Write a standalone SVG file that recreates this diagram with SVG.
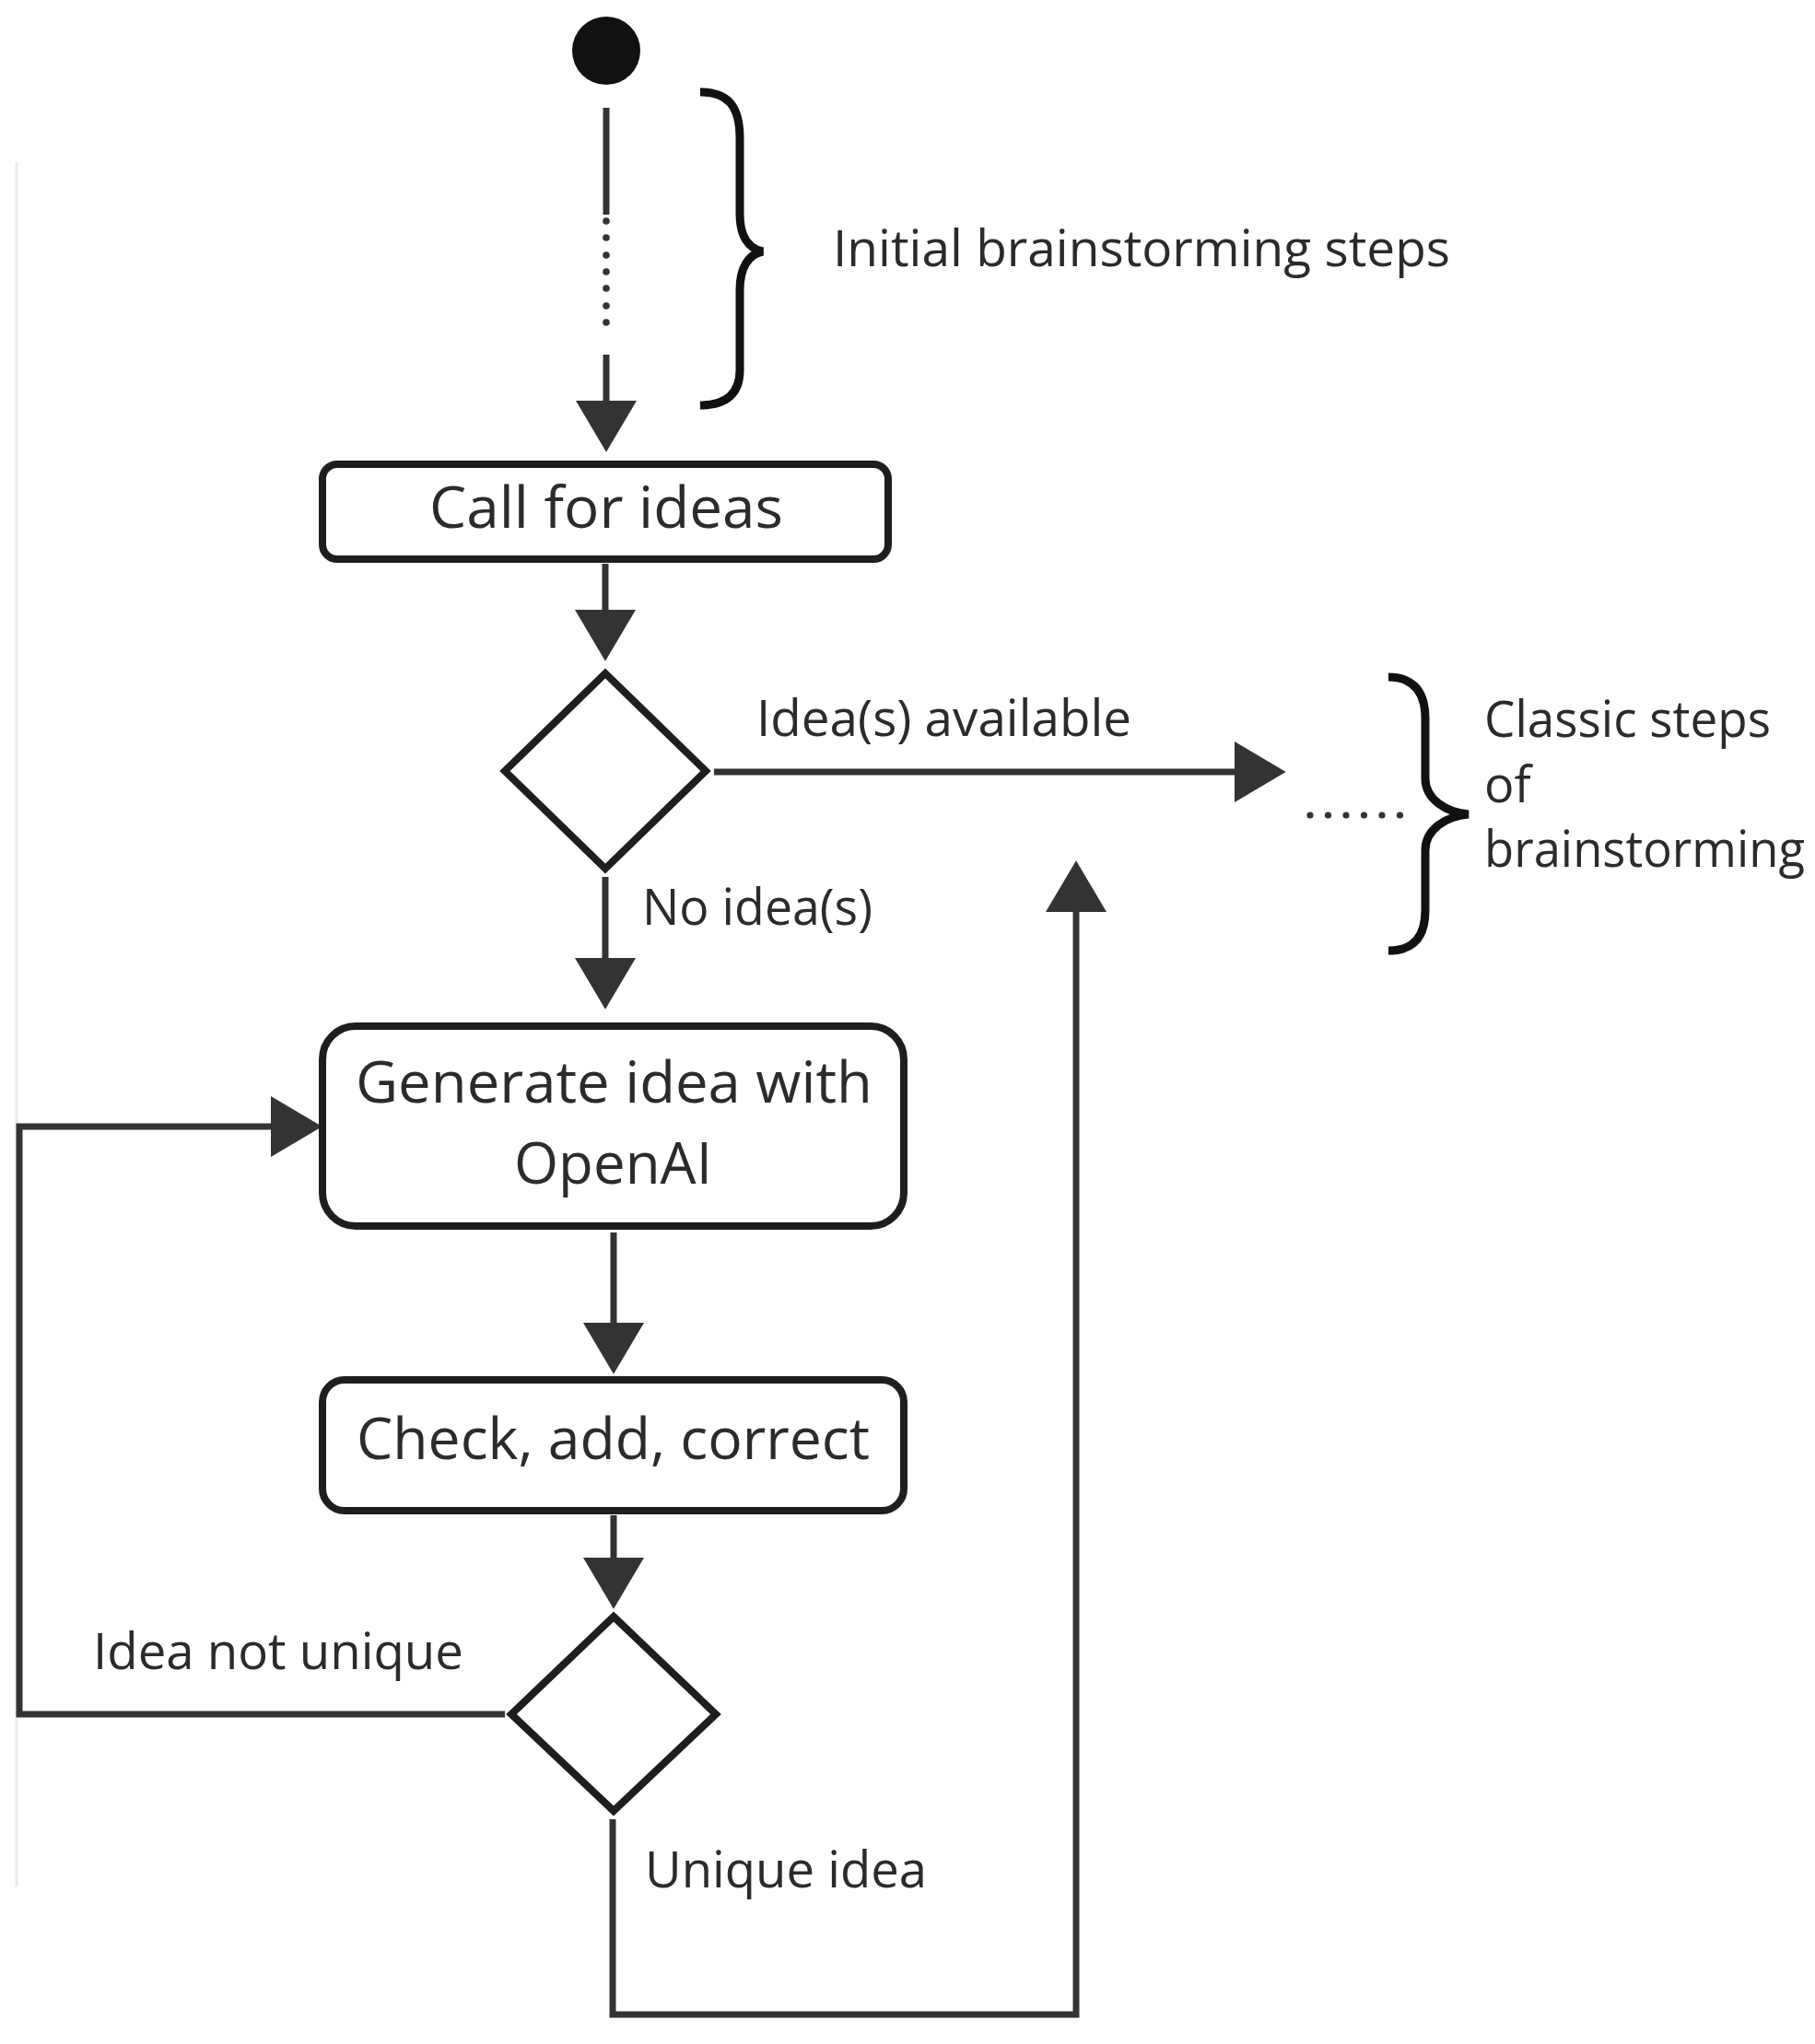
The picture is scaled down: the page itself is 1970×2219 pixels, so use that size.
<svg xmlns="http://www.w3.org/2000/svg" width="1970" height="2219" viewBox="0 0 1970 2219">
  <style>
    .node { fill: #ffffff; stroke: #1e1e1e; stroke-width: 8; }
    .conn { fill: none; stroke: #333333; stroke-width: 7; }
    .brace { fill: none; stroke: #111111; stroke-width: 9; stroke-linecap: butt; }
    .t { font-family: "Open Sans", "Noto Sans", "Liberation Sans", sans-serif; fill: #2b2b2b; }
    .big { font-size: 62px; }
    .lbl { font-size: 54px; }
    .dot { fill: #333333; }
  </style>
  <defs>
    <marker id="arr" markerUnits="userSpaceOnUse" markerWidth="56" markerHeight="66" viewBox="0 0 54 64" refX="0" refY="32" orient="auto">
      <path d="M0,0 L54,32 L0,64 Z" fill="#333333"/>
    </marker>
  </defs>
  <rect x="0" y="0" width="1970" height="2219" fill="#ffffff"/>
  <line x1="18" y1="176" x2="18" y2="2048" stroke="#ececec" stroke-width="3"/>

  <g id="connectors">
    <path class="conn" d="M658,117 V233"/>
    <g id="start-dots">
      <circle class="dot" cx="658" cy="240" r="3.8"/>
      <circle class="dot" cx="658" cy="258" r="3.8"/>
      <circle class="dot" cx="658" cy="277" r="3.8"/>
      <circle class="dot" cx="658" cy="295" r="3.8"/>
      <circle class="dot" cx="658" cy="313" r="3.8"/>
      <circle class="dot" cx="658" cy="332" r="3.8"/>
      <circle class="dot" cx="658" cy="350" r="3.8"/>
    </g>
    <path class="conn" d="M658,385 V435" marker-end="url(#arr)"/>
    <path class="conn" d="M657,612 V662" marker-end="url(#arr)"/>
    <path class="conn" d="M775,838 H1340" marker-end="url(#arr)"/>
    <path class="conn" d="M657,952 V1040" marker-end="url(#arr)"/>
    <path class="conn" d="M666,1338 V1436" marker-end="url(#arr)"/>
    <path class="conn" d="M666,1645 V1691" marker-end="url(#arr)"/>
    <path class="conn" d="M548,1861 H21 V1223 H294" marker-end="url(#arr)"/>
    <path class="conn" d="M665,1975 V2187 H1168 V990" marker-end="url(#arr)"/>
    <text class="t lbl" x="821" y="799" textLength="407" lengthAdjust="spacingAndGlyphs">Idea(s) available</text>
    <text class="t lbl" x="697" y="1004" textLength="250" lengthAdjust="spacingAndGlyphs">No idea(s)</text>
    <text class="t lbl" x="101" y="1812" textLength="402" lengthAdjust="spacingAndGlyphs">Idea not unique</text>
    <text class="t lbl" x="700" y="2049" textLength="306" lengthAdjust="spacingAndGlyphs">Unique idea</text>
  </g>

  <g id="start">
    <circle cx="658" cy="55" r="37" fill="#111111"/>
  </g>

  <g id="initial-steps">
    <path class="brace" d="M760,100 C790,100 803,115 803,150 V232 C803,256 812,270 828,273 C812,276 803,291 803,315 V402 C803,426 790,440 760,440"/>
    <text class="t lbl" x="904" y="289" textLength="670" lengthAdjust="spacingAndGlyphs">Initial brainstorming steps</text>
  </g>

  <g id="call-for-ideas">
    <rect class="node" x="350" y="504" width="614" height="103" rx="16"/>
    <text class="t big" x="466" y="573" textLength="384" lengthAdjust="spacingAndGlyphs">Call for ideas</text>
  </g>

  <g id="decision-ideas">
    <polygon class="node" points="657,731 766,837 657,943 548,837"/>
  </g>

  <g id="classic-steps">
    <g id="classic-dots">
      <circle class="dot" cx="1422" cy="885" r="3.6"/>
      <circle class="dot" cx="1441.5" cy="885" r="3.6"/>
      <circle class="dot" cx="1461" cy="885" r="3.6"/>
      <circle class="dot" cx="1480.5" cy="885" r="3.6"/>
      <circle class="dot" cx="1500" cy="885" r="3.6"/>
      <circle class="dot" cx="1519.5" cy="885" r="3.6"/>
    </g>
    <path class="brace" d="M1507,735 C1535,735 1547,752 1547,780 V845 C1547,868 1570,882 1594,884 C1570,886 1547,900 1547,923 V988 C1547,1016 1535,1032 1507,1032"/>
    <text class="t lbl" x="1611" y="800" textLength="311" lengthAdjust="spacingAndGlyphs">Classic steps</text>
    <text class="t lbl" x="1611" y="871">of</text>
    <text class="t lbl" x="1611" y="941" textLength="348" lengthAdjust="spacingAndGlyphs">brainstorming</text>
  </g>

  <g id="generate-idea">
    <rect class="node" x="350" y="1114" width="631" height="217" rx="36"/>
    <text class="t big" x="386" y="1197" textLength="561" lengthAdjust="spacingAndGlyphs">Generate idea with</text>
    <text class="t big" x="558" y="1285" textLength="215" lengthAdjust="spacingAndGlyphs">OpenAI</text>
  </g>

  <g id="check-add-correct">
    <rect class="node" x="350" y="1498" width="631" height="142" rx="24"/>
    <text class="t big" x="387" y="1584" textLength="557" lengthAdjust="spacingAndGlyphs">Check, add, correct</text>
  </g>

  <g id="decision-unique">
    <polygon class="node" points="666,1755 777,1861 666,1966 555,1861"/>
  </g>
</svg>
